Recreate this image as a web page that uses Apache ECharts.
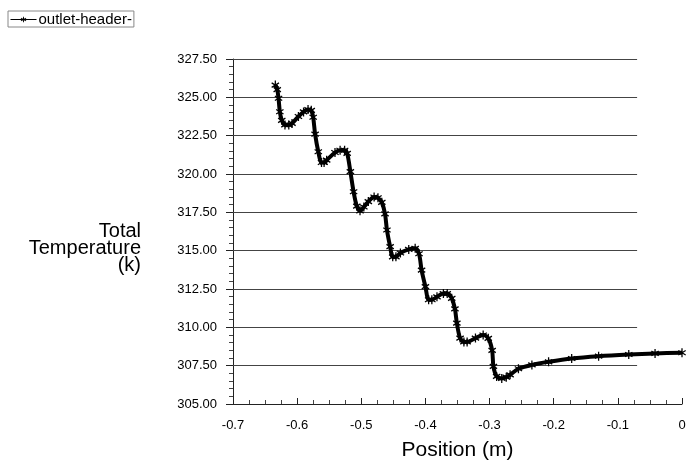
<!DOCTYPE html>
<html lang="en">
<head>
    <meta charset="UTF-8">
    <script src="https://cdn.jsdelivr.net/npm/echarts@6/dist/echarts.min.js"></script>
    <title>Total Temperature</title>
    <style>
        html, body { margin: 0; padding: 0; background: #fff; }
    </style>
</head>
<body>
<div id="main" style="width: 686px;height:463px;"></div>

<script type="text/javascript">
    // data: position (m) / total temperature (k)
    var posData = [-0.634, -0.631, -0.629, -0.627, -0.624, -0.619, -0.613, -0.608, -0.598, -0.590,
        -0.583, -0.578, -0.575, -0.572, -0.567, -0.562, -0.558, -0.554, -0.541, -0.533,
        -0.526, -0.522, -0.517, -0.512, -0.507, -0.502, -0.496, -0.489, -0.480, -0.474,
        -0.468, -0.463, -0.460, -0.455, -0.451, -0.446, -0.439, -0.426, -0.416, -0.410,
        -0.406, -0.400, -0.395, -0.390, -0.382, -0.372, -0.366, -0.359, -0.354, -0.351,
        -0.346, -0.340, -0.335, -0.322, -0.310, -0.302, -0.296, -0.294, -0.289, -0.281,
        -0.274, -0.268, -0.255, -0.234, -0.208, -0.172, -0.130, -0.083, -0.042, 0.000];
    var tempData = [325.8, 325.5, 324.94, 324.06, 323.5, 323.2, 323.2, 323.3, 323.75, 324.05,
        324.2, 324.15, 323.7, 322.6, 321.45, 320.75, 320.75, 320.9, 321.4, 321.55,
        321.55, 321.35, 320.15, 318.84, 317.9, 317.6, 317.85, 318.2, 318.5, 318.45,
        318.15, 317.4, 316.35, 315.26, 314.6, 314.6, 314.85, 315.08, 315.15, 314.8,
        313.73, 312.65, 311.8, 311.8, 311.99, 312.2, 312.2, 311.89, 311.2, 310.27,
        309.3, 309.05, 309.05, 309.3, 309.5, 309.28, 308.5, 307.45, 306.8, 306.67,
        306.75, 306.9, 307.3, 307.55, 307.75, 307.97, 308.12, 308.23, 308.3, 308.34];
    var gridVals = [307.5, 310, 312.5, 315, 317.5, 320, 322.5, 325, 327.5];
    var gridStart = -0.7;
    var gridEnd = -0.07;

    // asterisk marker
    var star = 'path://M-0.6,-4L0.6,-4L0.6,4L-0.6,4Z' +
        'M-3.76,-1.48L-3.16,-2.52L3.76,1.48L3.16,2.52Z' +
        'M-3.16,2.52L-3.76,1.48L3.16,-2.52L3.76,-1.48Z';

    var font = 'Liberation Sans, Arial, sans-serif';

    var points = [];
    for (var i = 0; i < posData.length; i++) {
        points.push([posData[i], tempData[i]]);
    }
    var gridLines = [];
    for (var j = 0; j < gridVals.length; j++) {
        gridLines.push([{coord: [gridStart, gridVals[j]]}, {coord: [gridEnd, gridVals[j]]}]);
    }

    var myChart = echarts.init(document.getElementById('main'));
    var option = {
        animation: false,
        backgroundColor: '#fff',
        textStyle: {fontFamily: font, color: '#000'},
        legend: {
            left: 8,
            top: 11,
            padding: [1, 2, 0, 2],
            borderColor: '#888',
            borderWidth: 1,
            itemWidth: 26,
            itemHeight: 7,
            itemGap: 2,
            formatter: '{name}-',
            lineStyle: {width: 1},
            textStyle: {fontSize: 15, color: '#000', fontFamily: font, padding: [0, 0, 0, -3]},
            data: ['outlet-header']
        },
        graphic: [{
            type: 'text',
            x: 141,
            y: 223,
            style: {
                text: 'Total\nTemperature\n(k)',
                align: 'right',
                verticalAlign: 'top',
                font: '20px ' + font,
                lineHeight: 17,
                fill: '#000'
            }
        }],
        grid: {
            left: 233,
            right: 4,
            top: 59,
            bottom: 59,
            outerBoundsMode: 'none'
        },
        xAxis: {
            type: 'value',
            min: -0.7,
            max: 0,
            interval: 0.1,
            name: 'Position (m)',
            nameLocation: 'middle',
            nameGap: 36,
            nameTextStyle: {fontSize: 21, color: '#000', fontFamily: font},
            axisLine: {show: true, onZero: false, lineStyle: {color: '#222', width: 1}},
            axisTick: {show: true, inside: true, length: 6, lineStyle: {color: '#222'}},
            minorTick: {show: true, splitNumber: 4, length: 4, lineStyle: {color: '#444'}},
            splitLine: {show: false},
            axisLabel: {
                fontSize: 13,
                color: '#000',
                margin: 15,
                formatter: function (v) {
                    var r = Math.round(v * 10) / 10;
                    return r === 0 ? '0' : r.toFixed(1);
                }
            }
        },
        yAxis: {
            type: 'value',
            min: 305,
            max: 327.5,
            interval: 2.5,
            axisLine: {show: true, onZero: false, lineStyle: {color: '#222', width: 1}},
            axisTick: {show: true, length: 7, lineStyle: {color: '#222'}},
            minorTick: {show: true, splitNumber: 5, length: 4, lineStyle: {color: '#444'}},
            splitLine: {show: false},
            axisLabel: {
                fontSize: 13,
                color: '#000',
                margin: 16,
                formatter: function (v) { return v.toFixed(2); }
            }
        },
        series: [{
            name: 'outlet-header',
            type: 'line',
            data: points,
            smooth: 0.3,
            symbol: star,
            symbolSize: [8, 9],
            showSymbol: true,
            itemStyle: {color: '#000'},
            lineStyle: {color: '#000', width: 4},
            z: 3,
            markLine: {
                silent: true,
                symbol: 'none',
                label: {show: false},
                lineStyle: {color: '#444', width: 1, type: 'solid'},
                data: gridLines,
                z: 1
            }
        }]
    };
    myChart.setOption(option);
</script>
</body>
</html>
